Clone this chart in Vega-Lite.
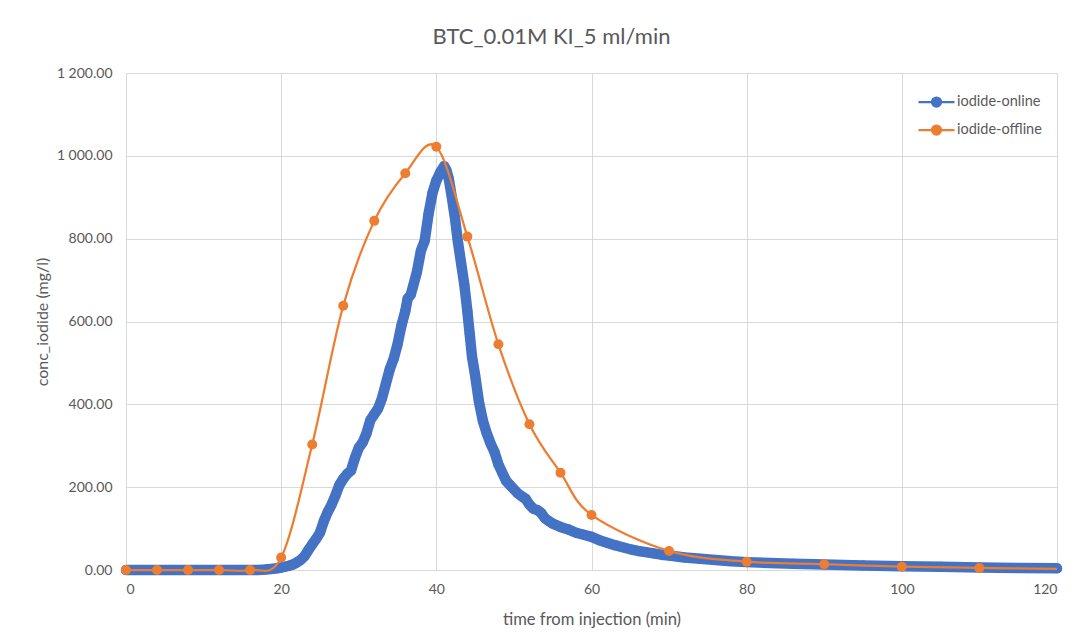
{
  "$schema": "https://vega.github.io/schema/vega-lite/v6.json",
  "width": 931,
  "height": 497,
  "autosize": {"type": "none"},
  "padding": {"left": 126, "top": 73, "right": 25, "bottom": 72},
  "background": "white",
  "title": {
    "text": "BTC_0.01M KI_5 ml/min",
    "anchor": "middle",
    "dx": -40,
    "baseline": "alphabetic",
    "offset": 0,
    "font": "Lato",
    "fontSize": 22,
    "fontWeight": "normal",
    "color": "#595959"
  },
  "config": {
    "font": "Lato",
    "view": {"stroke": null},
    "axis": {
      "labelFont": "Lato",
      "titleFont": "Lato",
      "labelColor": "#595959",
      "titleColor": "#595959",
      "titleFontWeight": "normal",
      "gridColor": "#D9D9D9",
      "gridWidth": 1,
      "ticks": false,
      "tickSize": 0
    }
  },
  "datasets": {
    "conc": [
      {"series": "iodide-online", "time": 0, "conc": 0},
      {"series": "iodide-online", "time": 1, "conc": 0},
      {"series": "iodide-online", "time": 2, "conc": 0},
      {"series": "iodide-online", "time": 3, "conc": 0},
      {"series": "iodide-online", "time": 4, "conc": 0},
      {"series": "iodide-online", "time": 5, "conc": 0},
      {"series": "iodide-online", "time": 6, "conc": 0},
      {"series": "iodide-online", "time": 7, "conc": 0},
      {"series": "iodide-online", "time": 8, "conc": 0},
      {"series": "iodide-online", "time": 9, "conc": 0},
      {"series": "iodide-online", "time": 10, "conc": 0},
      {"series": "iodide-online", "time": 11, "conc": 0},
      {"series": "iodide-online", "time": 12, "conc": 0},
      {"series": "iodide-online", "time": 13, "conc": 0},
      {"series": "iodide-online", "time": 14, "conc": 0},
      {"series": "iodide-online", "time": 15, "conc": 0},
      {"series": "iodide-online", "time": 16, "conc": 0},
      {"series": "iodide-online", "time": 17, "conc": 0},
      {"series": "iodide-online", "time": 18, "conc": 1},
      {"series": "iodide-online", "time": 19, "conc": 3},
      {"series": "iodide-online", "time": 19.5, "conc": 4},
      {"series": "iodide-online", "time": 20, "conc": 6},
      {"series": "iodide-online", "time": 20.5, "conc": 8},
      {"series": "iodide-online", "time": 21, "conc": 10},
      {"series": "iodide-online", "time": 21.5, "conc": 13},
      {"series": "iodide-online", "time": 22, "conc": 18},
      {"series": "iodide-online", "time": 22.5, "conc": 24},
      {"series": "iodide-online", "time": 23, "conc": 33},
      {"series": "iodide-online", "time": 23.5, "conc": 48},
      {"series": "iodide-online", "time": 24, "conc": 62},
      {"series": "iodide-online", "time": 24.5, "conc": 75},
      {"series": "iodide-online", "time": 25, "conc": 90},
      {"series": "iodide-online", "time": 25.5, "conc": 118},
      {"series": "iodide-online", "time": 26, "conc": 140},
      {"series": "iodide-online", "time": 26.5, "conc": 158},
      {"series": "iodide-online", "time": 27, "conc": 180},
      {"series": "iodide-online", "time": 27.5, "conc": 205},
      {"series": "iodide-online", "time": 28, "conc": 220},
      {"series": "iodide-online", "time": 28.5, "conc": 232},
      {"series": "iodide-online", "time": 29, "conc": 240},
      {"series": "iodide-online", "time": 29.5, "conc": 270},
      {"series": "iodide-online", "time": 30, "conc": 295},
      {"series": "iodide-online", "time": 30.5, "conc": 308},
      {"series": "iodide-online", "time": 31, "conc": 330},
      {"series": "iodide-online", "time": 31.5, "conc": 362},
      {"series": "iodide-online", "time": 32, "conc": 376},
      {"series": "iodide-online", "time": 32.5, "conc": 390},
      {"series": "iodide-online", "time": 33, "conc": 415},
      {"series": "iodide-online", "time": 33.5, "conc": 450},
      {"series": "iodide-online", "time": 34, "conc": 485},
      {"series": "iodide-online", "time": 34.5, "conc": 510},
      {"series": "iodide-online", "time": 35, "conc": 545},
      {"series": "iodide-online", "time": 35.5, "conc": 590},
      {"series": "iodide-online", "time": 36, "conc": 625},
      {"series": "iodide-online", "time": 36.3, "conc": 655},
      {"series": "iodide-online", "time": 36.7, "conc": 665},
      {"series": "iodide-online", "time": 37, "conc": 685},
      {"series": "iodide-online", "time": 37.5, "conc": 720},
      {"series": "iodide-online", "time": 38, "conc": 770},
      {"series": "iodide-online", "time": 38.5, "conc": 795},
      {"series": "iodide-online", "time": 39, "conc": 860},
      {"series": "iodide-online", "time": 39.5, "conc": 910},
      {"series": "iodide-online", "time": 40, "conc": 940},
      {"series": "iodide-online", "time": 40.5, "conc": 960},
      {"series": "iodide-online", "time": 41, "conc": 975},
      {"series": "iodide-online", "time": 41.3, "conc": 965},
      {"series": "iodide-online", "time": 41.6, "conc": 945},
      {"series": "iodide-online", "time": 42, "conc": 900},
      {"series": "iodide-online", "time": 42.4, "conc": 850},
      {"series": "iodide-online", "time": 42.8, "conc": 790},
      {"series": "iodide-online", "time": 43.2, "conc": 740},
      {"series": "iodide-online", "time": 43.6, "conc": 690},
      {"series": "iodide-online", "time": 44, "conc": 625},
      {"series": "iodide-online", "time": 44.3, "conc": 570},
      {"series": "iodide-online", "time": 44.6, "conc": 515},
      {"series": "iodide-online", "time": 45, "conc": 470},
      {"series": "iodide-online", "time": 45.5, "conc": 405},
      {"series": "iodide-online", "time": 46, "conc": 360},
      {"series": "iodide-online", "time": 46.5, "conc": 330},
      {"series": "iodide-online", "time": 47, "conc": 305},
      {"series": "iodide-online", "time": 47.5, "conc": 285},
      {"series": "iodide-online", "time": 48, "conc": 255},
      {"series": "iodide-online", "time": 48.5, "conc": 235},
      {"series": "iodide-online", "time": 49, "conc": 215},
      {"series": "iodide-online", "time": 49.5, "conc": 205},
      {"series": "iodide-online", "time": 50, "conc": 195},
      {"series": "iodide-online", "time": 50.5, "conc": 185},
      {"series": "iodide-online", "time": 51, "conc": 178},
      {"series": "iodide-online", "time": 51.5, "conc": 172},
      {"series": "iodide-online", "time": 52, "conc": 158},
      {"series": "iodide-online", "time": 52.5, "conc": 148},
      {"series": "iodide-online", "time": 53, "conc": 145},
      {"series": "iodide-online", "time": 53.5, "conc": 138},
      {"series": "iodide-online", "time": 54, "conc": 125},
      {"series": "iodide-online", "time": 54.5, "conc": 118},
      {"series": "iodide-online", "time": 55, "conc": 112},
      {"series": "iodide-online", "time": 55.5, "conc": 108},
      {"series": "iodide-online", "time": 56, "conc": 104},
      {"series": "iodide-online", "time": 57, "conc": 98},
      {"series": "iodide-online", "time": 58, "conc": 90},
      {"series": "iodide-online", "time": 59, "conc": 85},
      {"series": "iodide-online", "time": 60, "conc": 80},
      {"series": "iodide-online", "time": 61, "conc": 72},
      {"series": "iodide-online", "time": 62, "conc": 66},
      {"series": "iodide-online", "time": 63, "conc": 60},
      {"series": "iodide-online", "time": 64, "conc": 55},
      {"series": "iodide-online", "time": 65, "conc": 50},
      {"series": "iodide-online", "time": 66, "conc": 46},
      {"series": "iodide-online", "time": 67, "conc": 43},
      {"series": "iodide-online", "time": 68, "conc": 40},
      {"series": "iodide-online", "time": 69, "conc": 37},
      {"series": "iodide-online", "time": 70, "conc": 35},
      {"series": "iodide-online", "time": 72, "conc": 30},
      {"series": "iodide-online", "time": 74, "conc": 27},
      {"series": "iodide-online", "time": 76, "conc": 24},
      {"series": "iodide-online", "time": 78, "conc": 21},
      {"series": "iodide-online", "time": 80, "conc": 19},
      {"series": "iodide-online", "time": 83, "conc": 17},
      {"series": "iodide-online", "time": 86, "conc": 15},
      {"series": "iodide-online", "time": 90, "conc": 13},
      {"series": "iodide-online", "time": 95, "conc": 11},
      {"series": "iodide-online", "time": 100, "conc": 9},
      {"series": "iodide-online", "time": 105, "conc": 8},
      {"series": "iodide-online", "time": 110, "conc": 6},
      {"series": "iodide-online", "time": 115, "conc": 5},
      {"series": "iodide-online", "time": 120, "conc": 4},
      {"series": "iodide-offline", "time": 0, "conc": 0},
      {"series": "iodide-offline", "time": 4, "conc": 0},
      {"series": "iodide-offline", "time": 8, "conc": 0},
      {"series": "iodide-offline", "time": 12, "conc": 0},
      {"series": "iodide-offline", "time": 16, "conc": 0},
      {"series": "iodide-offline", "time": 20, "conc": 30},
      {"series": "iodide-offline", "time": 24, "conc": 303},
      {"series": "iodide-offline", "time": 28, "conc": 638},
      {"series": "iodide-offline", "time": 32, "conc": 843},
      {"series": "iodide-offline", "time": 36, "conc": 958},
      {"series": "iodide-offline", "time": 40, "conc": 1022},
      {"series": "iodide-offline", "time": 44, "conc": 805},
      {"series": "iodide-offline", "time": 48, "conc": 545},
      {"series": "iodide-offline", "time": 52, "conc": 352},
      {"series": "iodide-offline", "time": 56, "conc": 235},
      {"series": "iodide-offline", "time": 60, "conc": 133},
      {"series": "iodide-offline", "time": 70, "conc": 46},
      {"series": "iodide-offline", "time": 80, "conc": 20},
      {"series": "iodide-offline", "time": 90, "conc": 14},
      {"series": "iodide-offline", "time": 100, "conc": 8},
      {"series": "iodide-offline", "time": 110, "conc": 5},
      {"series": "iodide-offline", "time": 120, "conc": 3}
    ]
  },
  "data": {"name": "conc"},
  "encoding": {
    "x": {
      "field": "time",
      "type": "quantitative",
      "scale": {"domain": [0, 120], "nice": false, "zero": false},
      "axis": {
        "title": "time from injection (min)",
        "values": [0, 20, 40, 60, 80, 100, 120],
        "format": "d",
        "labelFontSize": 14,
        "labelPadding": 12,
        "titleFontSize": 16.6,
        "titlePadding": 15,
        "domain": true,
        "domainColor": "#D9D9D9",
        "domainWidth": 1
      }
    },
    "y": {
      "field": "conc",
      "type": "quantitative",
      "scale": {"domain": [0, 1200], "nice": false},
      "axis": {
        "title": "conc_iodide (mg/l)",
        "values": [0, 200, 400, 600, 800, 1000, 1200],
        "labelExpr": "replace(format(datum.value, ',.2f'), ',', ' ')",
        "labelFontSize": 14,
        "labelPadding": 14,
        "titleFontSize": 16,
        "titlePadding": 6,
        "domain": true,
        "domainColor": "#D9D9D9",
        "domainWidth": 1
      }
    },
    "color": {
      "field": "series",
      "type": "nominal",
      "scale": {"domain": ["iodide-online", "iodide-offline"], "range": ["#4472C4", "#ED7D31"]},
      "legend": {
        "title": null,
        "orient": "none",
        "legendX": 800,
        "legendY": 18.5,
        "padding": 0,
        "symbolType": "M-2,0L2,0M-0.5,0A0.5,0.5 0 1,1 0.5,0A0.5,0.5 0 1,1 -0.5,0Z",
        "symbolSize": 324,
        "symbolStrokeWidth": 2.25,
        "symbolOpacity": 1,
        "labelOffset": 10,
        "labelFont": "Lato",
        "labelFontSize": 14.5,
        "labelColor": "#595959",
        "rowPadding": 8,
        "encode": {
          "symbols": {
            "update": {
              "stroke": {"scale": "color", "field": "value"},
              "fill": {"scale": "color", "field": "value"},
              "strokeWidth": {"value": 2.25},
              "opacity": {"value": 1}
            }
          }
        }
      }
    }
  },
  "layer": [
    {
      "transform": [{"filter": "datum.series === 'iodide-online'"}],
      "mark": {"type": "line", "strokeWidth": 10.5, "strokeCap": "round", "strokeJoin": "round", "opacity": 1}
    },
    {
      "transform": [{"filter": "datum.series === 'iodide-online'"}],
      "mark": {"type": "point", "filled": true, "shape": "circle", "size": 100, "opacity": 1}
    },
    {
      "transform": [{"filter": "datum.series === 'iodide-offline'"}],
      "mark": {"type": "line", "strokeWidth": 2.25, "interpolate": "cardinal", "tension": 0, "opacity": 1}
    },
    {
      "transform": [{"filter": "datum.series === 'iodide-offline' && datum.time < 120"}],
      "mark": {"type": "point", "filled": true, "shape": "circle", "size": 100, "opacity": 1}
    }
  ]
}
